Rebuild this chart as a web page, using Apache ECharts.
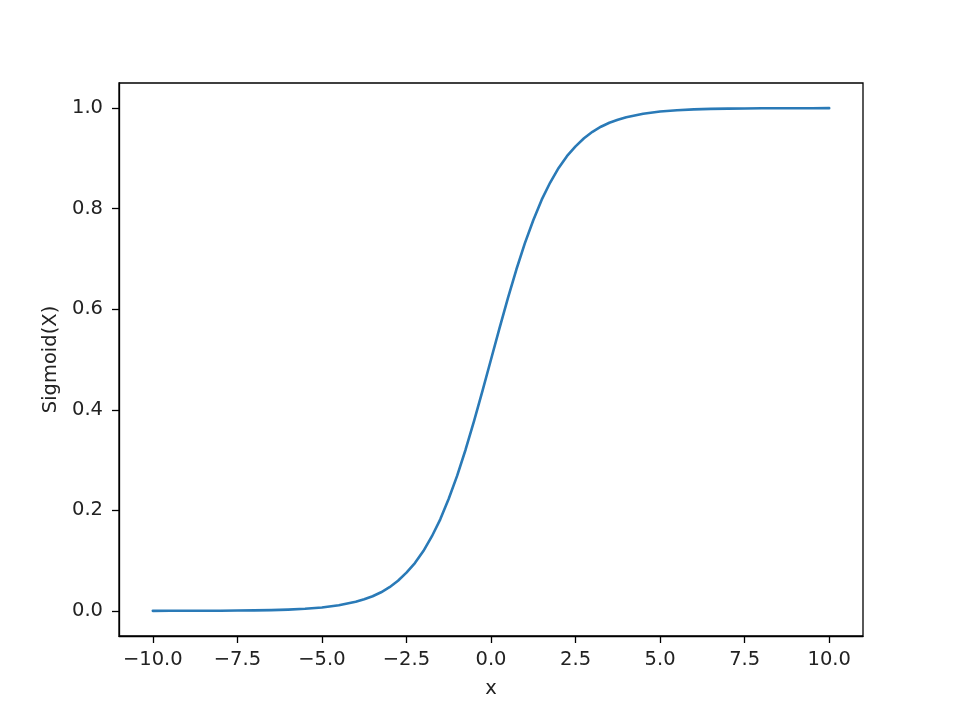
<!DOCTYPE html>
<html>
<head>
<meta charset="utf-8">
<script src="https://cdn.jsdelivr.net/npm/echarts@6/dist/echarts.min.js"></script>
<style>
html,body{margin:0;padding:0;background:#fff;}
#c{width:953px;height:706px;}
</style>
</head>
<body>
<div id="c"></div>
<script>
const xValues = [-10, -9.5, -9, -8.5, -8, -7.5, -7, -6.5, -6, -5.5, -5, -4.5, -4, -3.75, -3.5, -3.25, -3, -2.75, -2.5, -2.25, -2, -1.75, -1.5, -1.25, -1, -0.75, -0.5, -0.25, 0, 0.25, 0.5, 0.75, 1, 1.25, 1.5, 1.75, 2, 2.25, 2.5, 2.75, 3, 3.25, 3.5, 3.75, 4, 4.5, 5, 5.5, 6, 6.5, 7, 7.5, 8, 8.5, 9, 9.5, 10];
const sigmoidValues = [0.0000, 0.0001, 0.0001, 0.0002, 0.0003, 0.0006, 0.0009, 0.0015, 0.0025, 0.0041, 0.0067, 0.011, 0.018, 0.023, 0.029, 0.037, 0.047, 0.060, 0.076, 0.095, 0.119, 0.148, 0.182, 0.223, 0.269, 0.321, 0.378, 0.438, 0.500, 0.562, 0.622, 0.679, 0.731, 0.777, 0.818, 0.852, 0.881, 0.905, 0.924, 0.940, 0.953, 0.963, 0.971, 0.977, 0.982, 0.989, 0.9933, 0.9959, 0.9975, 0.9985, 0.9991, 0.9994, 0.9997, 0.9998, 0.9999, 0.9999, 1.0000];
const xTicks = [-10, -7.5, -5, -2.5, 0, 2.5, 5, 7.5, 10];
const yTicks = [0, 0.2, 0.4, 0.6, 0.8, 1.0];
const xLabel = 'x';
const yLabel = 'Sigmoid(X)';

const fmt = v => v.toFixed(1).replace('-', '\u2212');
const FONT = 'DejaVu Sans';
const FS = 19.5;

const chart = echarts.init(document.getElementById('c'), null, {renderer: 'canvas'});
chart.setOption({
  animation: false,
  backgroundColor: '#fff',
  grid: {left: 119, right: 90, top: 83, bottom: 70, show: true, borderColor: '#000', borderWidth: 1.3, containLabel: false},
  xAxis: {
    type: 'value', min: -11, max: 11,
    name: xLabel, nameLocation: 'middle', nameGap: 43,
    nameTextStyle: {fontFamily: FONT, fontSize: FS, color: '#222'},
    axisLine: {show: true, onZero: false, lineStyle: {color: '#000', width: 1.3}},
    axisTick: {show: true, length: 7, lineStyle: {color: '#000', width: 1.3}, customValues: xTicks},
    axisLabel: {show: true, margin: 14, fontFamily: FONT, fontSize: FS, color: '#222', customValues: xTicks, formatter: fmt},
    splitLine: {show: false}
  },
  yAxis: {
    type: 'value', min: -0.05, max: 1.05,
    name: yLabel, nameLocation: 'middle', nameGap: 56, nameRotate: 90,
    nameTextStyle: {fontFamily: FONT, fontSize: FS, color: '#222'},
    axisLine: {show: true, onZero: false, lineStyle: {color: '#000', width: 1.3}},
    axisTick: {show: true, length: 7, lineStyle: {color: '#000', width: 1.3}, customValues: yTicks},
    axisLabel: {show: true, margin: 16, fontFamily: FONT, fontSize: FS, color: '#222', customValues: yTicks, formatter: fmt},
    splitLine: {show: false}
  },
  series: [{
    type: 'line',
    data: xValues.map((x, i) => [x, sigmoidValues[i]]),
    showSymbol: false,
    smooth: false,
    lineStyle: {color: '#2a7ab7', width: 2.6, join: 'round', cap: 'round'},
    itemStyle: {color: '#2a7ab7'}
  }]
});
</script>
</body>
</html>
